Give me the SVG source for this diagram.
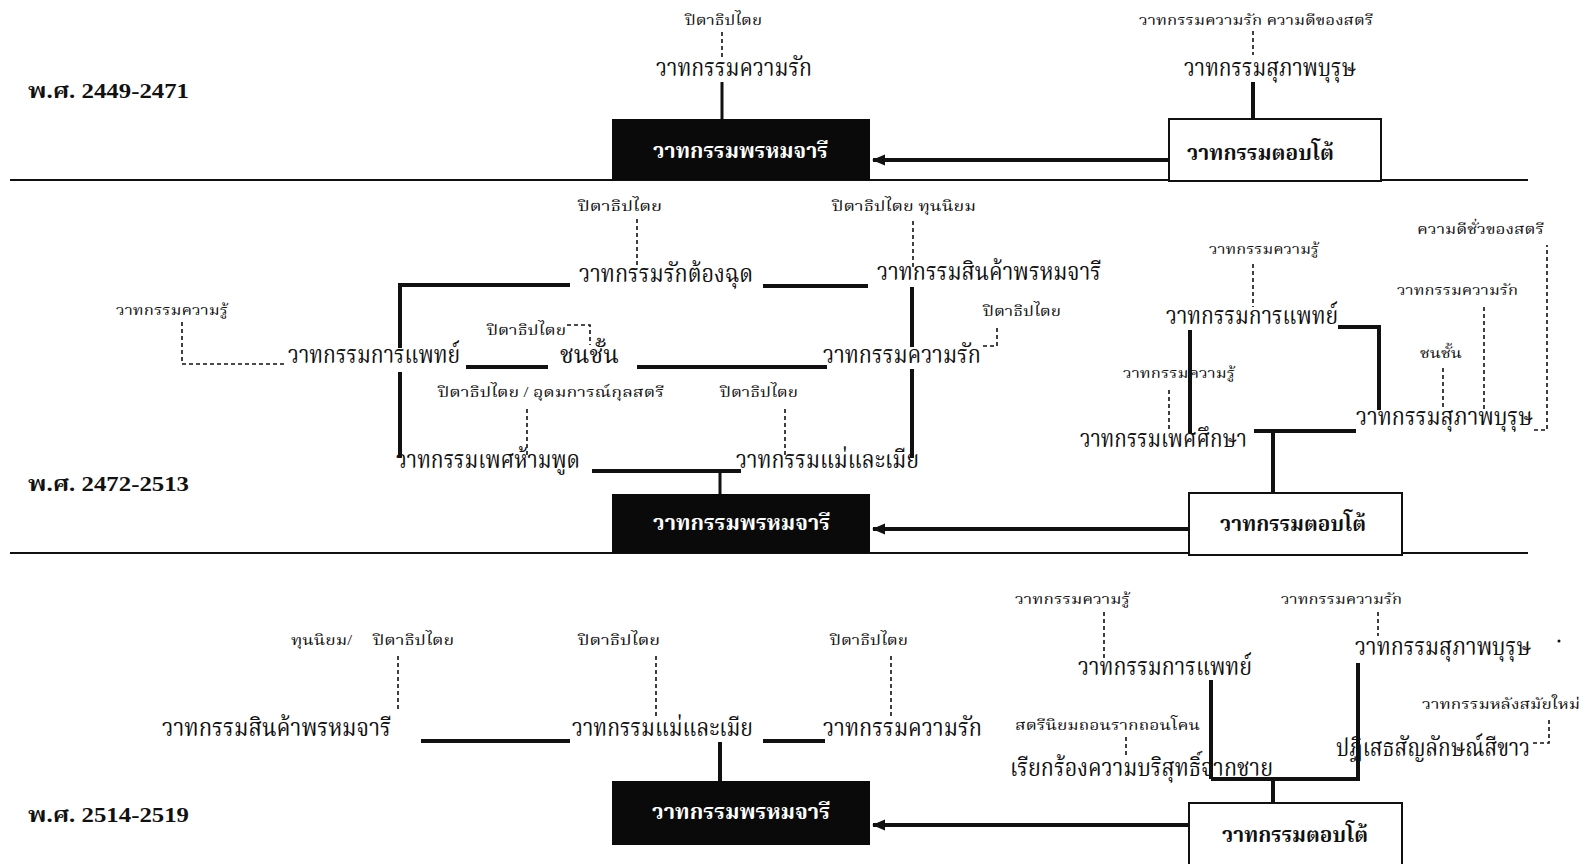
<svg xmlns="http://www.w3.org/2000/svg" width="1587" height="864" viewBox="0 0 1587 864">
<defs>
<style>
text{font-family:"Liberation Serif","Noto Serif Thai","Noto Sans Thai","DejaVu Serif",serif;fill:#111;}
.m{font-size:24px;}
.s{font-size:14.5px;}
.b{font-size:21px;font-weight:bold;}
.y{font-size:21px;font-weight:bold;}
.w{fill:#fff;}
.sol{stroke:#111;stroke-width:4;fill:none;}
.thin{stroke:#111;stroke-width:3;fill:none;}
.dash{stroke:#111;stroke-width:1.6;stroke-dasharray:4 3;fill:none;}
.sep{stroke:#111;stroke-width:2;}
.bk{fill:#0a0a0a;}
.wb{fill:#fff;stroke:#111;stroke-width:2;}
</style>
<marker id="ah" viewBox="0 0 12 10" refX="11" refY="5" markerWidth="3.4" markerHeight="3" orient="auto" markerUnits="strokeWidth">
<path d="M0,0 L12,5 L0,10 Z" fill="#111"/>
</marker>
</defs>
<rect width="1587" height="864" fill="#fff"/>

<g id="separators">
<line class="sep" x1="10" y1="180" x2="1528" y2="180"/>
<line class="sep" x1="10" y1="553" x2="1528" y2="553"/>
</g>

<g id="connectors">
<!-- section 1 -->
<line class="dash" x1="722" y1="32" x2="722" y2="57"/>
<line class="thin" x1="722" y1="82" x2="722" y2="119"/>
<line class="dash" x1="1253" y1="31" x2="1253" y2="55"/>
<line class="sol" x1="1253" y1="82" x2="1253" y2="119"/>
<line class="sol" x1="1169" y1="160" x2="873" y2="160" marker-end="url(#ah)"/>
<!-- section 2 -->
<line class="dash" x1="637" y1="219" x2="637" y2="265"/>
<polyline class="sol" points="570,285 400,285 400,348"/>
<line class="sol" x1="400" y1="372" x2="400" y2="458"/>
<line class="sol" x1="763" y1="286" x2="868" y2="286"/>
<line class="dash" x1="913" y1="221" x2="913" y2="268"/>
<line class="sol" x1="912" y1="287" x2="912" y2="347"/>
<line class="sol" x1="912" y1="369" x2="912" y2="458"/>
<polyline class="dash" points="182,322 182,364 286,364"/>
<line class="sol" x1="466" y1="367" x2="548" y2="367"/>
<polyline class="dash" points="567,325 590,325 590,345"/>
<line class="sol" x1="637" y1="367" x2="827" y2="367"/>
<polyline class="dash" points="983,346 997,346 997,327"/>
<line class="dash" x1="527" y1="409" x2="527" y2="455"/>
<line class="dash" x1="785" y1="409" x2="785" y2="455"/>
<line class="sol" x1="592" y1="471" x2="741" y2="471"/>
<line class="thin" x1="720" y1="471" x2="720" y2="494"/>
<line class="sol" x1="1189" y1="529" x2="873" y2="529" marker-end="url(#ah)"/>
<line class="dash" x1="1253" y1="264" x2="1253" y2="307"/>
<polyline class="sol" points="1338,327 1379,327 1379,410"/>
<line class="sol" x1="1190" y1="330" x2="1190" y2="433"/>
<line class="dash" x1="1169" y1="390" x2="1169" y2="432"/>
<line class="sol" x1="1254" y1="431" x2="1356" y2="431"/>
<line class="sol" x1="1273" y1="431" x2="1273" y2="493"/>
<line class="dash" x1="1484" y1="307" x2="1484" y2="410"/>
<line class="dash" x1="1443" y1="368" x2="1443" y2="410"/>
<polyline class="dash" points="1534,430 1547,430 1547,245"/>
<!-- section 3 -->
<line class="dash" x1="398" y1="656" x2="398" y2="710"/>
<line class="sol" x1="421" y1="741" x2="570" y2="741"/>
<line class="dash" x1="656" y1="656" x2="656" y2="718"/>
<line class="sol" x1="763" y1="741" x2="825" y2="741"/>
<line class="dash" x1="891" y1="656" x2="891" y2="718"/>
<line class="sol" x1="720" y1="742" x2="720" y2="781"/>
<line class="sol" x1="1189" y1="825" x2="873" y2="825" marker-end="url(#ah)"/>
<line class="dash" x1="1104" y1="612" x2="1104" y2="658"/>
<line class="sol" x1="1211" y1="680" x2="1211" y2="779"/>
<line class="dash" x1="1126" y1="737" x2="1126" y2="757"/>
<polyline class="sol" points="1211,779 1358,779 1358,663"/>
<line class="sol" x1="1273" y1="779" x2="1273" y2="803"/>
<line class="dash" x1="1378" y1="612" x2="1378" y2="636"/>
<polyline class="dash" points="1533,743 1549,743 1549,718"/>
</g>

<!-- Section 1 -->
<g id="year1"><text class="y" x="28" y="98" textLength="161" lengthAdjust="spacingAndGlyphs">พ.ศ. 2449-2471</text></g>
<g id="s1-patriarchy"><text class="s" x="685" y="25" textLength="77" lengthAdjust="spacingAndGlyphs">ปิตาธิปไตย</text></g>
<g id="s1-love"><text class="m" x="656" y="76" textLength="156" lengthAdjust="spacingAndGlyphs">วาทกรรมความรัก</text></g>
<g id="s1-celibacy"><rect class="bk" x="612" y="119" width="258" height="61"/><text class="b w" x="653" y="158" textLength="175" lengthAdjust="spacingAndGlyphs">วาทกรรมพรหมจารี</text></g>
<g id="s1-response"><rect class="wb" x="1169" y="119" width="212" height="62"/><text class="b" x="1187" y="160" textLength="147" lengthAdjust="spacingAndGlyphs">วาทกรรมตอบโต้</text></g>
<g id="s1-lovegood"><text class="s" x="1139" y="25" textLength="234" lengthAdjust="spacingAndGlyphs">วาทกรรมความรัก ความดีของสตรี</text></g>
<g id="s1-gentleman"><text class="m" x="1184" y="76" textLength="172" lengthAdjust="spacingAndGlyphs">วาทกรรมสุภาพบุรุษ</text></g>

<!-- Section 2 -->
<g id="year2"><text class="y" x="28" y="491" textLength="161" lengthAdjust="spacingAndGlyphs">พ.ศ. 2472-2513</text></g>
<g id="s2-patriarchy-a"><text class="s" x="578" y="211" textLength="84" lengthAdjust="spacingAndGlyphs">ปิตาธิปไตย</text></g>
<g id="s2-romance"><text class="m" x="579" y="282" textLength="174" lengthAdjust="spacingAndGlyphs">วาทกรรมรักต้องฉุด</text></g>
<g id="s2-patri-capital"><text class="s" x="832" y="211" textLength="144" lengthAdjust="spacingAndGlyphs">ปิตาธิปไตย ทุนนิยม</text></g>
<g id="s2-commodity"><text class="m" x="877" y="280" textLength="224" lengthAdjust="spacingAndGlyphs">วาทกรรมสินค้าพรหมจารี</text></g>
<g id="s2-knowledge-a"><text class="s" x="116" y="315" textLength="112" lengthAdjust="spacingAndGlyphs">วาทกรรมความรู้</text></g>
<g id="s2-medical-a"><text class="m" x="288" y="363" textLength="172" lengthAdjust="spacingAndGlyphs">วาทกรรมการแพทย์</text></g>
<g id="s2-patriarchy-b"><text class="s" x="487" y="335" textLength="79" lengthAdjust="spacingAndGlyphs">ปิตาธิปไตย</text></g>
<g id="s2-class"><text class="m" x="560" y="363" textLength="59" lengthAdjust="spacingAndGlyphs">ชนชั้น</text></g>
<g id="s2-patriarchy-c"><text class="s" x="983" y="316" textLength="78" lengthAdjust="spacingAndGlyphs">ปิตาธิปไตย</text></g>
<g id="s2-love"><text class="m" x="823" y="363" textLength="158" lengthAdjust="spacingAndGlyphs">วาทกรรมความรัก</text></g>
<g id="s2-patri-ideal"><text class="s" x="438" y="397" textLength="226" lengthAdjust="spacingAndGlyphs">ปิตาธิปไตย / อุดมการณ์กุลสตรี</text></g>
<g id="s2-patriarchy-d"><text class="s" x="720" y="397" textLength="78" lengthAdjust="spacingAndGlyphs">ปิตาธิปไตย</text></g>
<g id="s2-taboo"><text class="m" x="396" y="468" textLength="184" lengthAdjust="spacingAndGlyphs">วาทกรรมเพศห้ามพูด</text></g>
<g id="s2-motherwife"><text class="m" x="736" y="468" textLength="183" lengthAdjust="spacingAndGlyphs">วาทกรรมแม่และเมีย</text></g>
<g id="s2-celibacy"><rect class="bk" x="612" y="494" width="258" height="59"/><text class="b w" x="653" y="530" textLength="177" lengthAdjust="spacingAndGlyphs">วาทกรรมพรหมจารี</text></g>
<g id="s2-response"><rect class="wb" x="1189" y="493" width="213" height="62"/><text class="b" x="1220" y="531" textLength="146" lengthAdjust="spacingAndGlyphs">วาทกรรมตอบโต้</text></g>
<g id="s2-knowledge-b"><text class="s" x="1209" y="254" textLength="110" lengthAdjust="spacingAndGlyphs">วาทกรรมความรู้</text></g>
<g id="s2-medical-b"><text class="m" x="1166" y="324" textLength="172" lengthAdjust="spacingAndGlyphs">วาทกรรมการแพทย์</text></g>
<g id="s2-knowledge-c"><text class="s" x="1123" y="378" textLength="112" lengthAdjust="spacingAndGlyphs">วาทกรรมความรู้</text></g>
<g id="s2-sexed"><text class="m" x="1080" y="447" textLength="167" lengthAdjust="spacingAndGlyphs">วาทกรรมเพศศึกษา</text></g>
<g id="s2-goodbad"><text class="s" x="1417" y="234" textLength="127" lengthAdjust="spacingAndGlyphs">ความดีชั่วของสตรี</text></g>
<g id="s2-love-c"><text class="s" x="1397" y="295" textLength="121" lengthAdjust="spacingAndGlyphs">วาทกรรมความรัก</text></g>
<g id="s2-class-b"><text class="s" x="1420" y="358" textLength="42" lengthAdjust="spacingAndGlyphs">ชนชั้น</text></g>
<g id="s2-gentleman"><text class="m" x="1356" y="425" textLength="177" lengthAdjust="spacingAndGlyphs">วาทกรรมสุภาพบุรุษ</text></g>

<!-- Section 3 -->
<g id="year3"><text class="y" x="28" y="822" textLength="161" lengthAdjust="spacingAndGlyphs">พ.ศ. 2514-2519</text></g>
<g id="s3-capital-patri"><text class="s" x="291" y="645" textLength="61" lengthAdjust="spacingAndGlyphs">ทุนนิยม/</text><text class="s" x="373" y="645" textLength="81" lengthAdjust="spacingAndGlyphs">ปิตาธิปไตย</text></g>
<g id="s3-commodity"><text class="m" x="162" y="736" textLength="229" lengthAdjust="spacingAndGlyphs">วาทกรรมสินค้าพรหมจารี</text></g>
<g id="s3-patriarchy-a"><text class="s" x="578" y="645" textLength="82" lengthAdjust="spacingAndGlyphs">ปิตาธิปไตย</text></g>
<g id="s3-motherwife"><text class="m" x="572" y="736" textLength="181" lengthAdjust="spacingAndGlyphs">วาทกรรมแม่และเมีย</text></g>
<g id="s3-patriarchy-b"><text class="s" x="830" y="645" textLength="78" lengthAdjust="spacingAndGlyphs">ปิตาธิปไตย</text></g>
<g id="s3-love"><text class="m" x="823" y="736" textLength="159" lengthAdjust="spacingAndGlyphs">วาทกรรมความรัก</text></g>
<g id="s3-celibacy"><rect class="bk" x="612" y="781" width="258" height="64"/><text class="b w" x="652" y="819" textLength="178" lengthAdjust="spacingAndGlyphs">วาทกรรมพรหมจารี</text></g>
<g id="s3-response"><rect class="wb" x="1189" y="803" width="213" height="70"/><text class="b" x="1222" y="842" textLength="146" lengthAdjust="spacingAndGlyphs">วาทกรรมตอบโต้</text></g>
<g id="s3-knowledge"><text class="s" x="1015" y="604" textLength="115" lengthAdjust="spacingAndGlyphs">วาทกรรมความรู้</text></g>
<g id="s3-medical"><text class="m" x="1078" y="675" textLength="174" lengthAdjust="spacingAndGlyphs">วาทกรรมการแพทย์</text></g>
<g id="s3-radfem"><text class="s" x="1015" y="730" textLength="185" lengthAdjust="spacingAndGlyphs">สตรีนิยมถอนรากถอนโคน</text></g>
<g id="s3-purity"><text class="m" x="1010" y="776" textLength="263" lengthAdjust="spacingAndGlyphs">เรียกร้องความบริสุทธิ์จากชาย</text></g>
<g id="s3-love-b"><text class="s" x="1281" y="604" textLength="121" lengthAdjust="spacingAndGlyphs">วาทกรรมความรัก</text></g>
<g id="s3-gentleman"><text class="m" x="1355" y="655" textLength="176" lengthAdjust="spacingAndGlyphs">วาทกรรมสุภาพบุรุษ</text><circle cx="1559" cy="641" r="1.5" fill="#111"/></g>
<g id="s3-postmodern"><text class="s" x="1422" y="709" textLength="158" lengthAdjust="spacingAndGlyphs">วาทกรรมหลังสมัยใหม่</text></g>
<g id="s3-reject"><text class="m" x="1336" y="756" textLength="194" lengthAdjust="spacingAndGlyphs">ปฏิเสธสัญลักษณ์สีขาว</text></g>
</svg>
